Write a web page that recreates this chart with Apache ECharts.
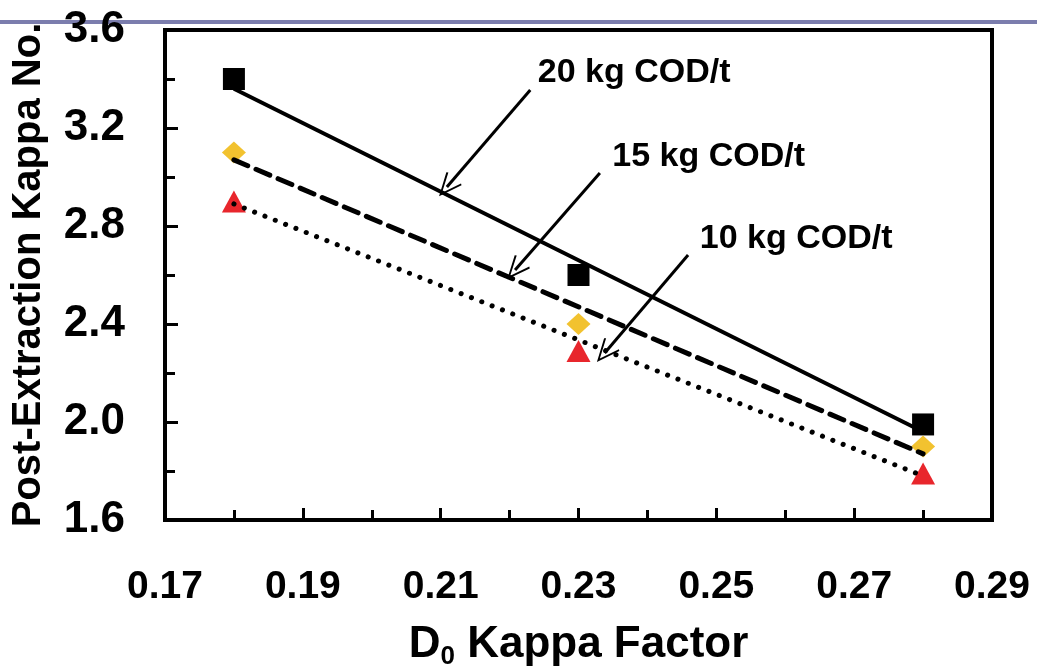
<!DOCTYPE html>
<html>
<head>
<meta charset="utf-8">
<title>Post-Extraction Kappa No. vs D0 Kappa Factor</title>
<script src="https://cdn.jsdelivr.net/npm/echarts@6/dist/echarts.min.js"></script>
<style>
  html, body { margin: 0; padding: 0; background: #fff; }
  #chart { width: 1037px; height: 670px; }
</style>
</head>
<body>
<div id="chart"></div>
<script>
// measured points (D0 kappa factor vs post-extraction kappa)
var kappaFactor = [0.18, 0.23, 0.28];
var cod20 = [3.40, 2.60, 1.99];
var cod15 = [3.10, 2.40, 1.90];
var cod10 = [2.90, 2.29, 1.79];

// trend line ends
var fitX = [0.18, 0.28];
var fit20 = [3.36, 1.96];
var fit15 = [3.07, 1.87];
var fit10 = [2.89, 1.78];

// callout labels and arrow (tail -> head) positions in data units
var noteNames = ['20 kg COD/t', '15 kg COD/t', '10 kg COD/t'];
var noteX = [0.2241, 0.2349, 0.2476];
var noteY = [3.425, 3.085, 2.75];
var arrowFrom = [[0.2230, 3.355], [0.2331, 3.016], [0.2459, 2.682]];
var arrowTo = [[0.2109, 2.959], [0.2208, 2.620], [0.2338, 2.282]];

var FONT = '"Liberation Sans", Arial, sans-serif';

function pairs(xs, ys) {
    return xs.map(function (x, i) { return [x, ys[i]]; });
}

var myChart = echarts.init(document.getElementById('chart'));

// open "V" arrow head
var openArrow = 'path://M0,0 L9,20 L7.5,21 L0,4 L-7.5,21 L-9,20 Z';

var option = {
    backgroundColor: '#fff',
    animation: false,
    graphic: [{
        type: 'rect',
        z: -10,
        shape: { x: 0, y: 20, width: 1037, height: 4 },
        style: { fill: '#7b7dad' }
    }],
    grid: {
        left: 165, right: 45, top: 30, bottom: 150,
        outerBoundsMode: 'none',
        containLabel: false,
        show: true,
        borderColor: '#000',
        borderWidth: 4,
        backgroundColor: 'transparent'
    },
    xAxis: {
        type: 'value',
        min: 0.17, max: 0.29, interval: 0.02,
        name: '{d|D}{sub|0}{d| Kappa Factor}',
        nameLocation: 'middle',
        nameGap: 100,
        nameTextStyle: {
            rich: {
                d: { fontFamily: FONT, fontWeight: 'bold', fontSize: 44, color: '#000' },
                sub: { fontFamily: FONT, fontWeight: 'bold', fontSize: 26, color: '#000', verticalAlign: 'bottom', padding: [24, 0, 0, 0] }
            }
        },
        axisLine: { lineStyle: { color: '#000', width: 4 } },
        axisTick: { show: true, inside: true, length: 12, lineStyle: { color: '#000', width: 3 } },
        minorTick: { show: true, splitNumber: 2, length: 10, lineStyle: { color: '#000', width: 3 } },
        splitLine: { show: false },
        axisLabel: {
            margin: 48,
            fontFamily: FONT, fontWeight: 'bold', fontSize: 39, color: '#000',
            formatter: function (v) { return v.toFixed(2); }
        }
    },
    yAxis: {
        type: 'value',
        min: 1.6, max: 3.6, interval: 0.4,
        name: 'Post-Extraction Kappa No.',
        nameLocation: 'middle',
        nameGap: 116,
        nameTextStyle: { fontFamily: FONT, fontWeight: 'bold', fontSize: 40, color: '#000' },
        axisLine: { lineStyle: { color: '#000', width: 4 } },
        axisTick: { show: true, inside: true, length: 13, lineStyle: { color: '#000', width: 3 } },
        minorTick: { show: true, splitNumber: 2, length: 10, lineStyle: { color: '#000', width: 3 } },
        splitLine: { show: false },
        axisLabel: {
            margin: 40,
            fontFamily: FONT, fontWeight: 'bold', fontSize: 44, color: '#000',
            formatter: function (v) { return v.toFixed(1); }
        }
    },
    series: [
        {
            name: 'fit 20', type: 'line', data: pairs(fitX, fit20),
            showSymbol: false, z: 3,
            lineStyle: { color: '#000', width: 4, type: 'solid' }
        },
        {
            name: 'fit 15', type: 'line', data: pairs(fitX, fit15),
            showSymbol: false, z: 3,
            lineStyle: { color: '#000', width: 5, type: [15, 9], cap: 'round' }
        },
        {
            name: 'fit 10', type: 'line', data: pairs(fitX, fit10),
            showSymbol: false, z: 3,
            lineStyle: { color: '#000', width: 5, type: [0.1, 11], cap: 'round' }
        },
        {
            name: '20 kg COD/t', type: 'scatter', data: pairs(kappaFactor, cod20),
            symbol: 'rect', symbolSize: 22, z: 2,
            itemStyle: { color: '#000', opacity: 1 }
        },
        {
            name: '15 kg COD/t', type: 'scatter', data: pairs(kappaFactor, cod15),
            symbol: 'diamond', symbolSize: [24, 22], z: 2,
            itemStyle: { color: '#f2c22f', opacity: 1 }
        },
        {
            name: '10 kg COD/t', type: 'scatter', data: pairs(kappaFactor, cod10),
            symbol: 'triangle', symbolSize: [24, 22], z: 2,
            itemStyle: { color: '#e8262c', opacity: 1 }
        },
        {
            name: 'notes', type: 'scatter', z: 5,
            symbolSize: 0,
            itemStyle: { color: '#000', opacity: 1 },
            data: noteNames.map(function (n, i) {
                return { name: n, value: [noteX[i], noteY[i]] };
            }),
            label: {
                show: true, position: 'right', distance: 0,
                formatter: '{b}',
                fontFamily: FONT, fontWeight: 'bold', fontSize: 34, color: '#000'
            },
            markLine: {
                silent: true,
                symbol: ['none', openArrow],
                symbolSize: [20, 24],
                label: { show: false },
                lineStyle: { color: '#000', width: 3, type: 'solid', opacity: 1 },
                data: arrowFrom.map(function (p, i) {
                    return [{ coord: p }, { coord: arrowTo[i] }];
                })
            }
        }
    ]
};

myChart.setOption(option);
</script>
</body>
</html>
